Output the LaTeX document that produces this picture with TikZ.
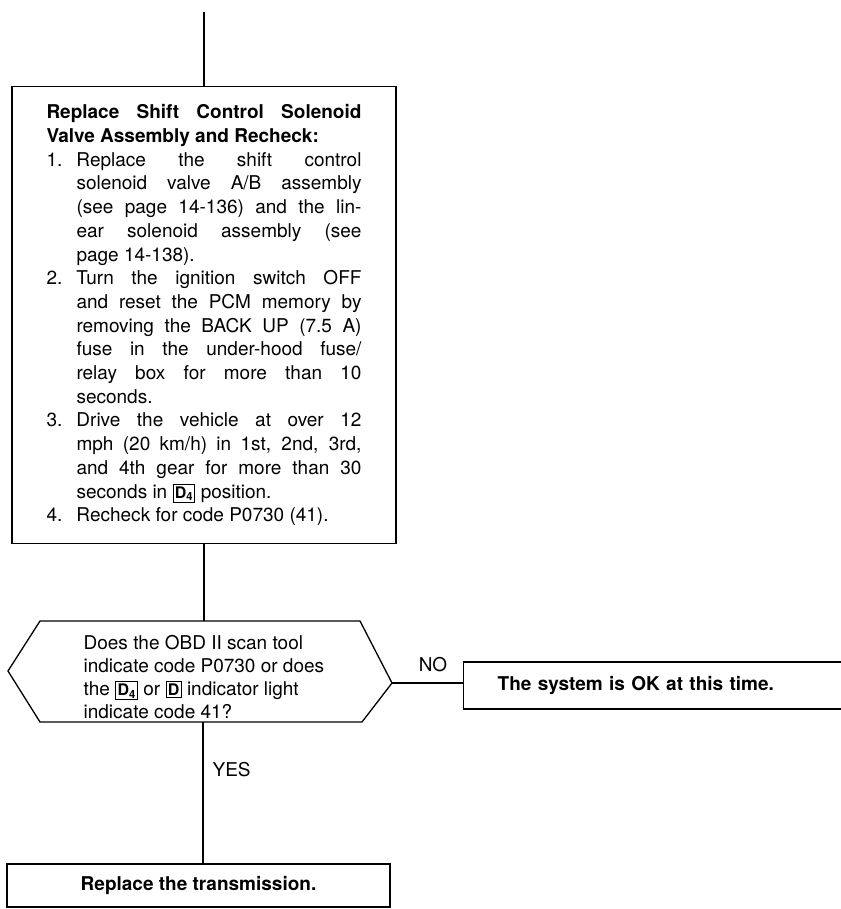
\documentclass[tikz,border=0pt]{standalone}
\usepackage{fontspec}
\setmainfont{TeX Gyre Heros}
\newcommand{\DBox}[1]{{\setlength\fboxsep{1.3pt}\setlength\fboxrule{1pt}\fbox{\fontsize{16}{16}\selectfont\bfseries D#1}}}
\begin{document}
\begin{tikzpicture}[x=1pt,y=-1pt,line width=1.3pt,
  box/.style={draw, rectangle, font=\fontsize{19}{23.7}\selectfont},
  lbl/.style={font=\fontsize{19}{23}\selectfont, inner sep=0pt}]
\useasboundingbox (0,0) rectangle (840,909);

\coordinate (top) at (204,12);
\node[box, anchor=north, text width=315pt, inner xsep=34.5pt, inner ysep=18pt, align=justify] (b1) at (204,86) {%
\textbf{Replace Shift Control Solenoid\linebreak Valve Assembly and Recheck:}\par
\hangindent=30pt\hangafter=1\noindent\makebox[30pt][l]{1.}Replace the shift control\linebreak solenoid valve A/B assembly\linebreak (see page 14-136) and the lin-\linebreak ear solenoid assembly (see\linebreak page 14-138).\par
\hangindent=30pt\hangafter=1\noindent\makebox[30pt][l]{2.}Turn the ignition switch OFF\linebreak and reset the PCM memory by\linebreak removing the BACK UP (7.5 A)\linebreak fuse in the under-hood fuse/\linebreak relay box for more than 10\linebreak seconds.\par
\hangindent=30pt\hangafter=1\noindent\makebox[30pt][l]{3.}Drive the vehicle at over 12\linebreak mph (20 km/h) in 1st, 2nd, 3rd,\linebreak and 4th gear for more than 30\linebreak seconds in \DBox{\textsubscript{4}} position.\par
\hangindent=30pt\hangafter=1\noindent\makebox[30pt][l]{4.}Recheck for code P0730 (41).};

% decision hexagon
\coordinate (hT) at (204,621);
\coordinate (hR) at (392,683);
\coordinate (hB) at (203,722);
\draw (40,621) -- (360,621) -- (hR) -- (362,722) -- (40,722) -- (8,671) -- cycle;
\node[lbl, anchor=west, align=left] (q) at (83,677) {Does the OBD II scan tool\\ indicate code P0730 or does\\ the \DBox{\textsubscript{4}} or \DBox{} indicator light\\ indicate code 41?};

\node[box, anchor=west, minimum height=47pt, text width=332pt, inner xsep=34pt, inner ysep=0pt, align=left, font=\fontsize{19}{23}\selectfont\bfseries] (ok) at (463,685.5) {The system is OK at this time.};

\node[box, minimum width=383pt, minimum height=43pt, inner sep=0pt, font=\fontsize{19}{23}\selectfont\bfseries] (b3) at (198.5,885.5) {Replace the transmission.};

\node[lbl, anchor=center] (no) at (433,665) {NO};
\node[lbl, anchor=west] (yes) at (212,770) {YES};

\draw (top) -- (b1.north);
\draw (b1.south) -- (hT);
\draw (hR) -- (hR -| ok.west);
\draw (hB) -- (hB |- b3.north);
\end{tikzpicture}
\end{document}
